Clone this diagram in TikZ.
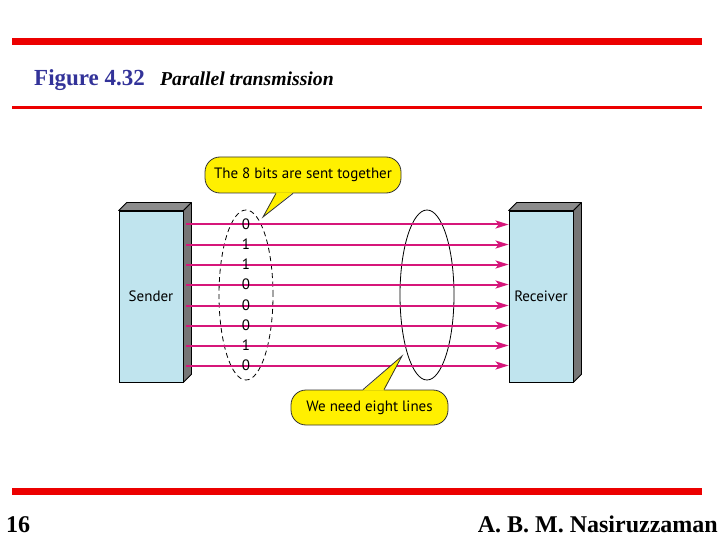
\documentclass[tikz,border=0pt]{standalone}
\usepackage{fontspec}
\setmainfont{Liberation Serif}
\newfontfamily\diagfont{PT Sans}
\usetikzlibrary{arrows.meta, positioning, shapes.geometric}
\definecolor{boxblue}{RGB}{192,228,238}
\definecolor{sidegray}{RGB}{118,118,118}
\definecolor{topgray}{RGB}{140,140,140}
\definecolor{wirepink}{RGB}{214,22,122}
\definecolor{noteyellow}{RGB}{255,240,0}
\definecolor{slidered}{RGB}{236,0,0}
\definecolor{titleblue}{RGB}{51,51,153}

\begin{document}
\begin{tikzpicture}[x=1pt, y=-1pt,
        station/.style={rectangle, draw, line width=0.8pt, fill=boxblue, minimum width=64pt, minimum height=171pt, inner sep=0pt, font=\diagfont\fontsize{15}{17}\selectfont},
        face/.style={draw, line width=0.8pt, line join=round},
        wire/.style={draw=wirepink, line width=2pt, -{Stealth[length=13pt, width=8pt, inset=3pt]}},
        bit/.style={inner sep=0pt, font=\diagfont\fontsize{15}{15}\selectfont},
        bitgroup/.style={ellipse, draw, line width=0.8pt, minimum width=54pt, minimum height=170pt, inner sep=0pt},
        note/.style={rectangle, draw=black!80, line width=0.8pt, fill=noteyellow, rounded corners=15pt, inner sep=0pt, font=\diagfont\fontsize{15}{17}\selectfont},
        redbar/.style={draw=slidered, line width=7pt},
        slidetext/.style={anchor=base west, inner sep=0pt, font=\bfseries\fontsize{24}{24}\selectfont}
        ]
        \useasboundingbox (0,0) rectangle (720,540);
        \coordinate (topleft) at (12,42);
        \coordinate (topright) at (702,42);
        \coordinate (ruleleft) at (12,108);
        \coordinate (ruleright) at (702,108);
        \coordinate (footleft) at (12,491);
        \coordinate (footright) at (702,491);
        \draw[redbar] (topleft) -- (topright);
        \draw[draw=slidered, line width=3pt] (ruleleft) -- (ruleright);
        \draw[redbar] (footleft) -- (footright);
        \node[slidetext, text=titleblue, font=\bfseries\fontsize{23}{23}\selectfont] (figno) at (34,86) {Figure 4.32};
        \node[slidetext, font=\bfseries\itshape\fontsize{19.7}{20}\selectfont] (figtitle) at (160,86) {Parallel transmission};
        \node[slidetext] (pageno) at (6,532) {16};
        \node[slidetext, anchor=base east] (author) at (718,532) {A. B. M. Nasiruzzaman};

        \node[station] (sender) at (151,296.5) {Sender};
        \node[station] (receiver) at (541,296.5) {Receiver};
        \foreach \unit in {sender, receiver} {
            \filldraw[face, fill=topgray] (\unit.north west) -- ++(8,-8) -- ([shift={(8,-8)}]\unit.north east) -- (\unit.north east) -- cycle;
            \filldraw[face, fill=sidegray] (\unit.north east) -- ++(8,-8) -- ([shift={(8,-8)}]\unit.south east) -- (\unit.south east) -- cycle;
        }
        \node[bitgroup, dash pattern=on 5pt off 3.5pt] (bitset) at (246,295) {};
        \node[bitgroup] (lineset) at (427,295) {};
        \foreach \b [count=\i] in {0,1,1,0,0,0,1,0} {
            \path (sender.east) ++(0,{round((\i-4.5)*20.15-1.5)}) coordinate (out\i);
            \draw[wire] ([xshift=3pt]out\i) -- (receiver.west |- out\i);
            \node[bit] (b\i) at (bitset.center |- out\i) {\b};
        }

        \node[note, minimum width=196pt, minimum height=36pt] (note1) at (303,175) {The 8 bits are sent together};
        \coordinate (tip1) at (263,217);
        \fill[noteyellow] ([shift={(-27,-1)}]note1.south) -- (tip1) -- ([shift={(-10,-1)}]note1.south) -- cycle;
        \draw[black!80, line width=0.8pt] ([xshift=-27pt]note1.south) -- (tip1) -- ([xshift=-10pt]note1.south);

        \node[note, minimum width=157pt, minimum height=35pt] (note2) at (369.5,407.5) {We need eight lines};
        \coordinate (tip2) at (402,356);
        \fill[noteyellow] ([shift={(-6.5,1)}]note2.north) -- (tip2) -- ([shift={(14.5,1)}]note2.north) -- cycle;
        \draw[black!80, line width=0.8pt] ([xshift=-6.5pt]note2.north) -- (tip2) -- ([xshift=14.5pt]note2.north);
    \end{tikzpicture}
\end{document}
